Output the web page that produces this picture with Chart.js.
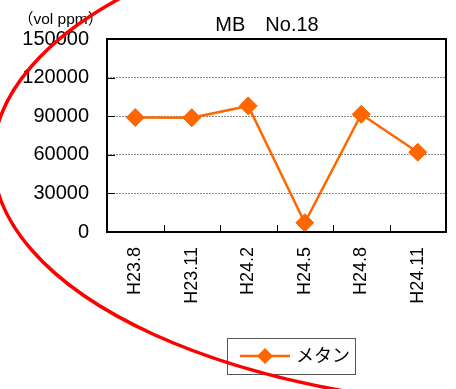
<!DOCTYPE html>
<html>
<head>
<meta charset="utf-8">
<script src="https://cdn.jsdelivr.net/npm/chart.js@4/dist/chart.umd.min.js"></script>
<style>
  html, body { margin: 0; padding: 0; background: #fff; }
  #wrap { width: 456px; height: 389px; }
</style>
</head>
<body>
<div id="wrap"><canvas id="mbChart" width="456" height="389"></canvas></div>
<script>
// chart values
const chartTitle = 'MB\u3000No.18';
const unitLabel = '\uff08vol ppm\uff09';
const seriesName = 'メタン';
const categories = ['H23.8', 'H23.11', 'H24.2', 'H24.5', 'H24.8', 'H24.11'];
const methaneValues = [89000, 88800, 98000, 7200, 91500, 62000];
const yTicks = [0, 30000, 60000, 90000, 120000, 150000];

const FONT = '"Liberation Sans", Arial, "Noto Sans CJK JP", sans-serif';
const ORANGE = '#ff6600';

// frame, inner ticks, title, unit label, legend box and the red hand-drawn ring
const decorPlugin = {
    id: 'decor',
    afterDraw(chart) {
        const ctx = chart.ctx;
        const area = chart.chartArea;
        const xs = chart.scales.x;
        const ys = chart.scales.y;
        ctx.save();

        // inward tick marks on y axis
        ctx.strokeStyle = '#000';
        ctx.lineWidth = 1;
        yTicks.forEach(v => {
            const py = Math.round(ys.getPixelForValue(v)) + 0.5;
            ctx.beginPath();
            ctx.moveTo(area.left, py);
            ctx.lineTo(area.left + 8, py);
            ctx.stroke();
        });
        // inward tick marks on x axis, between categories
        for (let i = 1; i < categories.length; i++) {
            const px = Math.round((xs.getPixelForValue(i - 1) + xs.getPixelForValue(i)) / 2) + 0.5;
            ctx.beginPath();
            ctx.moveTo(px, area.bottom);
            ctx.lineTo(px, area.bottom - 7);
            ctx.stroke();
        }

        // plot frame
        ctx.lineWidth = 2;
        ctx.strokeRect(area.left, area.top, area.right - area.left, area.bottom - area.top);

        // title
        ctx.fillStyle = '#000';
        ctx.font = '20px ' + FONT;
        ctx.textAlign = 'center';
        ctx.textBaseline = 'middle';
        ctx.fillText(chartTitle, 267, 25);

        // unit label
        ctx.font = '15.5px ' + FONT;
        ctx.textAlign = 'left';
        ctx.fillText(unitLabel, 18, 20);

        // legend
        ctx.lineWidth = 1;
        ctx.strokeStyle = '#555';
        ctx.strokeRect(227.5, 338.5, 128, 36);
        ctx.strokeStyle = ORANGE;
        ctx.lineWidth = 2.5;
        ctx.beginPath();
        ctx.moveTo(240, 356);
        ctx.lineTo(290, 356);
        ctx.stroke();
        ctx.fillStyle = ORANGE;
        ctx.beginPath();
        ctx.moveTo(265, 348);
        ctx.lineTo(273, 356);
        ctx.lineTo(265, 364);
        ctx.lineTo(257, 356);
        ctx.closePath();
        ctx.fill();
        ctx.fillStyle = '#000';
        ctx.font = '18px ' + FONT;
        ctx.textAlign = 'left';
        ctx.fillText(seriesName, 296, 357);

        // red ring over the left side
        ctx.strokeStyle = '#ff0000';
        ctx.lineWidth = 3.5;
        ctx.beginPath();
        ctx.ellipse(544, 158, 551, 250, 0, 0, Math.PI * 2);
        ctx.stroke();

        ctx.restore();
    }
};

const ctx = document.getElementById('mbChart').getContext('2d');
new Chart(ctx, {
    type: 'line',
    data: {
        labels: categories,
        datasets: [{
            label: seriesName,
            data: methaneValues,
            borderColor: ORANGE,
            backgroundColor: ORANGE,
            borderWidth: 2.5,
            pointStyle: 'rectRot',
            pointRadius: 9,
            pointBorderWidth: 1,
            pointBackgroundColor: ORANGE,
            pointBorderColor: ORANGE,
            tension: 0
        }]
    },
    options: {
        responsive: false,
        animation: false,
        devicePixelRatio: 1,
        layout: { padding: { top: 39, right: 9, left: 0, bottom: 0 } },
        plugins: {
            legend: { display: false },
            title: { display: false },
            tooltip: { enabled: false }
        },
        scales: {
            x: {
                offset: true,
                grid: { display: false, drawTicks: false },
                border: { display: false },
                ticks: {
                    color: '#000',
                    font: { family: FONT, size: 18 },
                    minRotation: 90,
                    maxRotation: 90,
                    padding: 15
                },
                afterFit(scale) { scale.height = 157; }
            },
            y: {
                min: 0,
                max: 150000,
                afterBuildTicks(scale) { scale.ticks = yTicks.map(v => ({ value: v })); },
                grid: {
                    color: ctx2 => (ctx2.tick && (ctx2.tick.value === 0 || ctx2.tick.value === 150000)) ? 'rgba(0,0,0,0)' : '#8a8a8a',
                    lineWidth: 1,
                    drawTicks: false
                },
                border: { display: false, dash: [2, 1] },
                ticks: {
                    color: '#000',
                    font: { family: FONT, size: 20 },
                    padding: 18,
                    callback: v => String(v)
                },
                afterFit(scale) { scale.width = 107; }
            }
        }
    },
    plugins: [decorPlugin]
});
</script>
</body>
</html>
